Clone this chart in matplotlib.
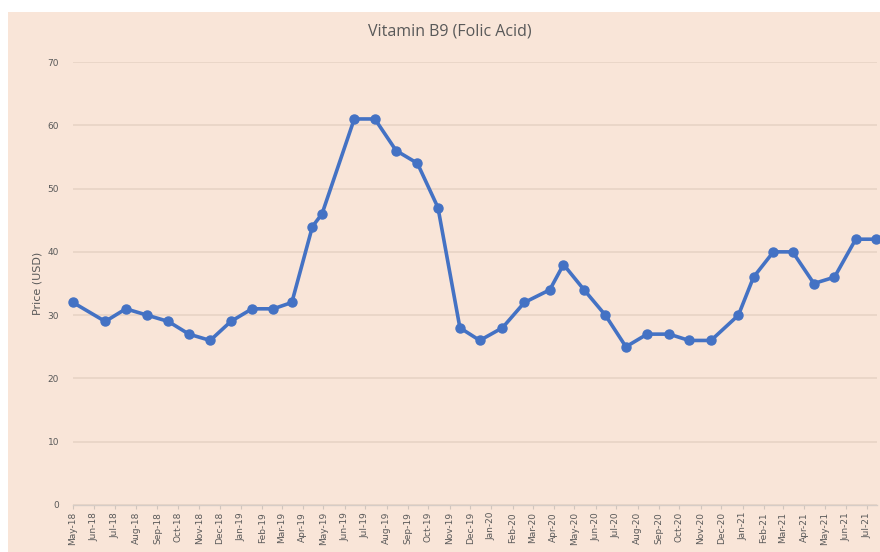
import numpy as np
import pandas as pd
import matplotlib
matplotlib.use('Agg')
import matplotlib.pyplot as plt
import matplotlib.dates as mdates
from matplotlib.patches import Rectangle

# 数据
dates = ['2018-05-01', '2018-06-17', '2018-07-17', '2018-08-17', '2018-09-17',
         '2018-10-17', '2018-11-17', '2018-12-17', '2019-01-17', '2019-02-17',
         '2019-03-16', '2019-04-15', '2019-04-29', '2019-06-15', '2019-07-15',
         '2019-08-15', '2019-09-15', '2019-10-15', '2019-11-16', '2019-12-15',
         '2020-01-17', '2020-02-18', '2020-03-26', '2020-04-15', '2020-05-15',
         '2020-06-15', '2020-07-15', '2020-08-15', '2020-09-16', '2020-10-15',
         '2020-11-16', '2020-12-26', '2021-01-17', '2021-02-15', '2021-03-15',
         '2021-04-15', '2021-05-15', '2021-06-15', '2021-07-15']
prices = [32, 29, 31, 30, 29,
          27, 26, 29, 31, 31,
          32, 44, 46, 61, 61,
          56, 54, 47, 28, 26,
          28, 32, 34, 38, 34,
          30, 25, 27, 27, 26,
          26, 30, 36, 40, 40,
          35, 36, 42, 42]
y_ticks = [0, 10, 20, 30, 40, 50, 60, 70]

title = 'Vitamin B9 (Folic Acid)'
y_label = 'Price (USD)'

bg = '#F9E5D8'
grid_c = '#E8D3C5'
text_c = '#595959'
line_c = '#4472C4'

x = pd.to_datetime(dates)

fig = plt.figure(figsize=(8.8, 5.52), dpi=100)
fig.patch.set_facecolor('white')
fig.patches.append(Rectangle((8 / 880, 0), 1, 540 / 552, transform=fig.transFigure,
                             facecolor=bg, edgecolor='none', zorder=-1))

ax = fig.add_axes([73 / 880, 1 - 505 / 552, (877 - 73) / 880, (505 - 62) / 552])
ax.set_facecolor('none')

ax.plot(x, prices, color=line_c, lw=2.6, marker='o', ms=6.5,
        markerfacecolor=line_c, markeredgecolor=line_c, zorder=3, clip_on=False)

ax.set_ylim(0, 70)
ax.set_yticks(y_ticks)
ax.set_xlim(pd.Timestamp('2018-05-01'), pd.Timestamp('2021-07-16'))

ax.xaxis.set_major_locator(mdates.MonthLocator())
ax.xaxis.set_major_formatter(mdates.DateFormatter('%b-%y'))
plt.setp(ax.get_xticklabels(), rotation=90, fontsize=6.5, color=text_c)
plt.setp(ax.get_yticklabels(), fontsize=6.5, color=text_c)
ax.tick_params(axis='x', length=3, color='#D0C4BC', pad=2)
ax.tick_params(axis='y', length=0, pad=10)

ax.grid(axis='y', color=grid_c, lw=1.2)
ax.set_axisbelow(True)
for s in ['top', 'right', 'left']:
    ax.spines[s].set_visible(False)
ax.spines['bottom'].set_color('#D6CCC6')
ax.spines['bottom'].set_linewidth(1.0)

ax.set_ylabel(y_label, fontsize=8, color=text_c, labelpad=4)
fig.text(450 / 880, 1 - 32 / 552, title, ha='center', va='center',
         fontsize=11.5, color=text_c, family='Open Sans')

fig.savefig('out.png', dpi=100, facecolor=fig.get_facecolor())
